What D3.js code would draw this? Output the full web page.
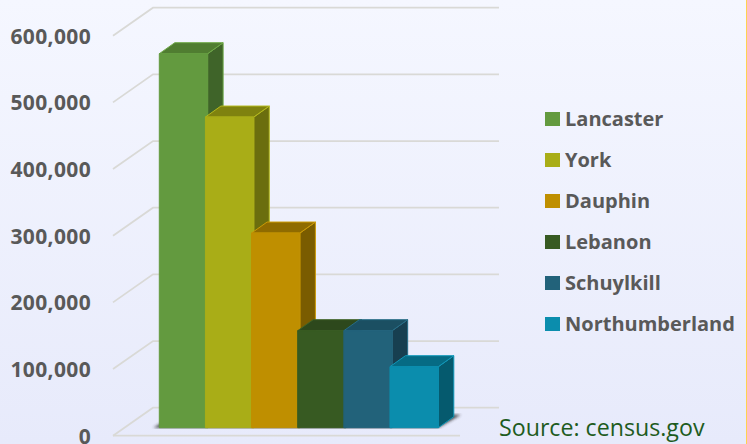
<!DOCTYPE html>
<html>
<head>
<meta charset="utf-8">
<script src="https://cdn.jsdelivr.net/npm/d3@7"></script>
<style>
  html, body { margin: 0; padding: 0; background: #eef0fd; overflow: hidden; }
  text { font-family: "Open Sans", "Noto Sans", sans-serif; }
</style>
</head>
<body>
<div id="chart"></div>
<script>
  const counties = ["Lancaster", "York", "Dauphin", "Lebanon", "Schuylkill", "Northumberland"];
  const population = [561000, 466000, 292000, 145500, 145500, 91500];
  const yTicks = [0, 100000, 200000, 300000, 400000, 500000, 600000];
  const frontColours = ["#639a3f", "#a9ad17", "#bf8f00", "#375a22", "#22627a", "#0b8dad"];
  const sideColours = ["#3f6429", "#6b6e0e", "#7a5c00", "#243a16", "#173f50", "#055a6e"];
  const topColours = ["#507d31", "#7f820f", "#8f6b00", "#2d481c", "#1b4f62", "#066b84"];
  const edgeColours = ["#6fa948", "#b5b91c", "#cc9a05", "#3f6327", "#276d87", "#1098b9"];
  const sourceLabel = "Source: census.gov";

  const width = 747;
  const height = 444;
  const depth = { x: 15.5, y: -11 };    // bar depth
  const wall = { x: 40, y: -28 };       // floor depth, front grid line to back wall
  const barLift = 8;                    // bars stand a little behind the front grid line
  const barOverlap = 2.2;               // each bar runs slightly under the next one

  const svg = d3.select("#chart").append("svg")
    .attr("width", width)
    .attr("height", height);

  const defs = svg.append("defs");
  const bg = defs.append("linearGradient")
    .attr("id", "bg").attr("x1", 0).attr("y1", 0).attr("x2", 0).attr("y2", 1);
  bg.append("stop").attr("offset", "0%").attr("stop-color", "#f5f7ff");
  bg.append("stop").attr("offset", "100%").attr("stop-color", "#e7eafb");
  defs.append("filter").attr("id", "blur")
    .append("feGaussianBlur").attr("stdDeviation", 1.4);

  svg.append("rect").attr("width", width).attr("height", height).attr("fill", "url(#bg)");

  // thin yellow chart border on the right edge
  svg.append("line")
    .attr("x1", 746.5).attr("x2", 746.5)
    .attr("y1", 0).attr("y2", height)
    .attr("stroke", "#ffd24f");

  const y = d3.scaleLinear().domain([0, 600000]).range([435.7, 35.7]);
  const x = d3.scaleBand().domain(counties).range([159.3, 436.1]).padding(0);
  const barWidth = x.bandwidth() + barOverlap;

  // grid lines, floor part then back wall
  const grid = svg.append("g");
  grid.selectAll("path")
    .data(yTicks)
    .join("path")
    .attr("fill", "none")
    .attr("stroke", "#d9d9d6")
    .attr("stroke-width", 1.8)
    .attr("d", (d) => {
      const p = d3.path();
      p.moveTo(113, y(d));
      p.lineTo(113 + wall.x, y(d) + wall.y);
      p.lineTo(499, y(d) + wall.y);
      return p.toString();
    });
  grid.append("line")
    .attr("x1", 113).attr("x2", 460)
    .attr("y1", y(0)).attr("y2", y(0))
    .attr("stroke", "#d9d9d6")
    .attr("stroke-width", 1.8);

  // y axis labels
  const axis = d3.axisLeft(y).tickValues(yTicks).tickSize(0).tickFormat(d3.format(","));
  const axisG = svg.append("g").attr("transform", "translate(94,0)").call(axis);
  axisG.select(".domain").remove();
  axisG.selectAll("text")
    .attr("x", -3)
    .attr("dy", "0.36em")
    .attr("fill", "#595959")
    .style("font-size", "21px")
    .style("letter-spacing", "0.35px")
    .style("font-weight", "700");

  // shadow under the bars, only its two ends show
  const base = y(0) - barLift;
  svg.append("path")
    .attr("filter", "url(#blur)")
    .attr("fill", "#2b2b2b")
    .attr("opacity", 0.85)
    .attr("d", () => {
      const p = d3.path();
      const x0 = x(counties[0]) - 6;
      const x1 = x(counties[5]) + barWidth;
      p.moveTo(x0, base);
      p.lineTo(x1, base);
      p.lineTo(x1 + depth.x + 7, base + depth.y - 2);
      p.lineTo(x0 + depth.x + 7, base + depth.y - 2);
      p.closePath();
      return p.toString();
    });

  // bars
  const bars = svg.append("g").selectAll("g")
    .data(population)
    .join("g")
    .attr("stroke-width", 1)
    .attr("stroke-linejoin", "round")
    .attr("stroke", (d, i) => edgeColours[i]);

  const barTop = (d) => y(d) - barLift;

  bars.append("path")
    .attr("fill", (d, i) => sideColours[i])
    .attr("d", (d, i) => {
      const r = x(counties[i]) + barWidth;
      return `M${r},${barTop(d)}L${r + depth.x},${barTop(d) + depth.y}L${r + depth.x},${base + depth.y}L${r},${base}Z`;
    });
  bars.append("path")
    .attr("fill", (d, i) => topColours[i])
    .attr("d", (d, i) => {
      const l = x(counties[i]);
      const r = l + barWidth;
      return `M${l},${barTop(d)}L${l + depth.x},${barTop(d) + depth.y}L${r + depth.x},${barTop(d) + depth.y}L${r},${barTop(d)}Z`;
    });
  bars.append("rect")
    .attr("x", (d, i) => x(counties[i]))
    .attr("y", (d) => barTop(d))
    .attr("width", barWidth)
    .attr("height", (d) => base - barTop(d))
    .attr("fill", (d, i) => frontColours[i])
    .attr("stroke", (d, i) => frontColours[i]);

  // legend
  const legendY = d3.scalePoint().domain(counties).range([119, 324]);
  const legend = svg.append("g").selectAll("g")
    .data(counties)
    .join("g")
    .attr("transform", (d) => `translate(545,${legendY(d)})`);
  legend.append("rect")
    .attr("y", -7)
    .attr("width", 15)
    .attr("height", 14)
    .attr("fill", (d, i) => frontColours[i]);
  legend.append("text")
    .attr("x", 20)
    .attr("dy", "0.36em")
    .attr("fill", "#595959")
    .style("font-size", "20px")
    .style("font-weight", "700")
    .text((d) => d);

  svg.append("text")
    .attr("x", 499)
    .attr("y", 436)
    .attr("fill", "#1e5c1e")
    .style("font-size", "23.2px")
    .text(sourceLabel);
</script>
</body>
</html>
